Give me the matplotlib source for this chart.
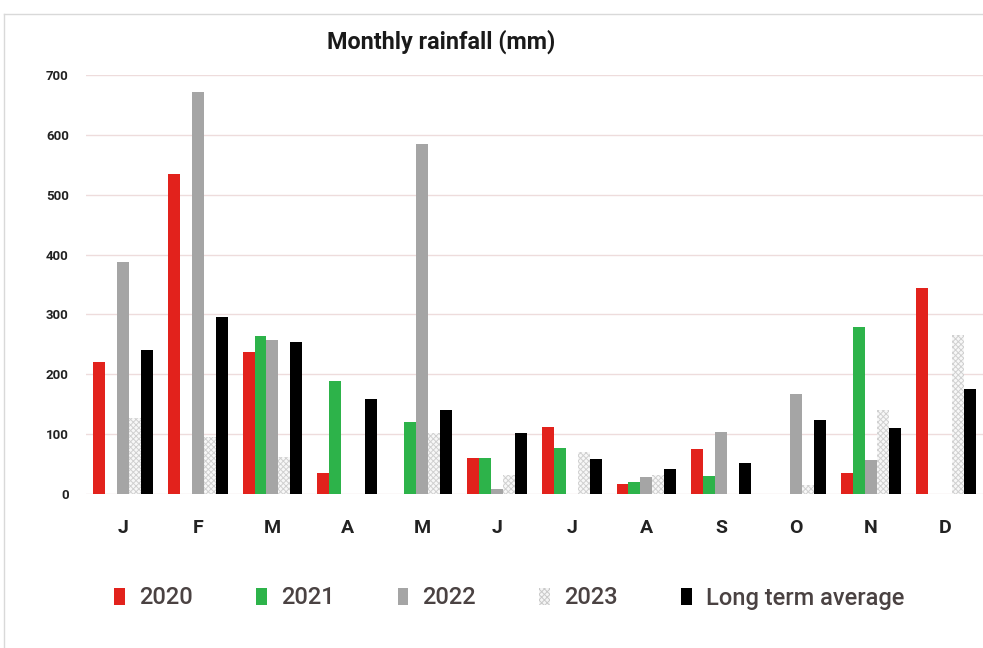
import matplotlib
matplotlib.use("Agg")
import matplotlib.pyplot as plt
from matplotlib.lines import Line2D
from matplotlib.patches import Patch
import numpy as np

months = ['J', 'F', 'M', 'A', 'M', 'J', 'J', 'A', 'S', 'O', 'N', 'D']
series_names = ['2020', '2021', '2022', '2023', 'Long term average']
rain_2020 = [221, 534, 237, 35, 0, 60, 112, 16, 75, 0, 35, 344]
rain_2021 = [0, 0, 264, 189, 120, 60, 77, 20, 30, 0, 279, 0]
rain_2022 = [388, 671, 257, 0, 584, 9, 0, 28, 103, 167, 57, 0]
rain_2023 = [127, 96, 62, 0, 102, 32, 71, 32, 0, 15, 141, 265]
rain_avg = [240, 295, 254, 158, 140, 102, 58, 41, 51, 123, 111, 176]
yticks = [0, 100, 200, 300, 400, 500, 600, 700]

colors = ['#e2221c', '#2db34a', '#a5a5a5', '#ffffff', '#000000']
plt.rcParams['hatch.linewidth'] = 0.7
plt.rcParams['font.family'] = ['Roboto', 'DejaVu Sans']

fig = plt.figure(figsize=(9.83, 6.48), dpi=100)
ax = fig.add_axes([85.5 / 983, 1 - 494 / 648, 1 - 85.5 / 983, (494 - 75) / 648])

x = np.arange(len(months))
width = 0.16
all_data = [rain_2020, rain_2021, rain_2022, rain_2023, rain_avg]
for i, vals in enumerate(all_data):
    offset = (i - 2) * width
    if i == 3:
        # 2023 bars are drawn with a light hatch
        ax.bar(x + offset, vals, width, color='#f8f8f8', edgecolor='#d0d0d0',
               hatch='xxxxxx', linewidth=0, zorder=3)
    else:
        ax.bar(x + offset, vals, width, color=colors[i], zorder=3)

ax.set_xlim(-0.5, 11.5)
ax.set_ylim(0, 700)
ax.set_yticks(yticks)
ax.set_yticklabels([str(v) for v in yticks], fontsize=9.5, fontweight='bold', color='#222222')
ax.set_xticks(x)
ax.set_xticklabels(months, fontsize=14, fontweight='bold', color='#222222')
ax.tick_params(axis='y', length=0, pad=12)
ax.tick_params(axis='x', length=0, pad=18)
for s in ax.spines.values():
    s.set_visible(False)
ax.grid(axis='y', color='#eedcdc', linewidth=1, zorder=0)
ax.set_axisbelow(True)

fig.text(0.449, 1 - 42 / 648, 'Monthly rainfall (mm)', fontsize=16.8, fontweight='bold',
         color='#1a1a1a', ha='center', va='center')

handles = [
    Patch(facecolor=colors[0], edgecolor='none'),
    Patch(facecolor=colors[1], edgecolor='none'),
    Patch(facecolor=colors[2], edgecolor='none'),
    Patch(facecolor='#f5f5f5', edgecolor='#c9c9c9', hatch='xxxxxx', linewidth=0),
    Patch(facecolor=colors[4], edgecolor='none'),
]
fig.legend(handles, series_names, loc='center', bbox_to_anchor=(0.518, 1 - 598 / 648),
           ncol=5, frameon=False, handlelength=0.45, handleheight=0.75, handletextpad=0.6,
           columnspacing=2.68, prop={'size': 17, 'weight': 'medium'},
           labelcolor='#4a4242')

# page frame lines
fig.add_artist(Line2D([4 / 983, 1], [1 - 14 / 648, 1 - 14 / 648], color='#d9d9d9', lw=1))
fig.add_artist(Line2D([4 / 983, 4 / 983], [0, 1 - 14 / 648], color='#d9d9d9', lw=1))

fig.savefig('out.png', dpi=100)
